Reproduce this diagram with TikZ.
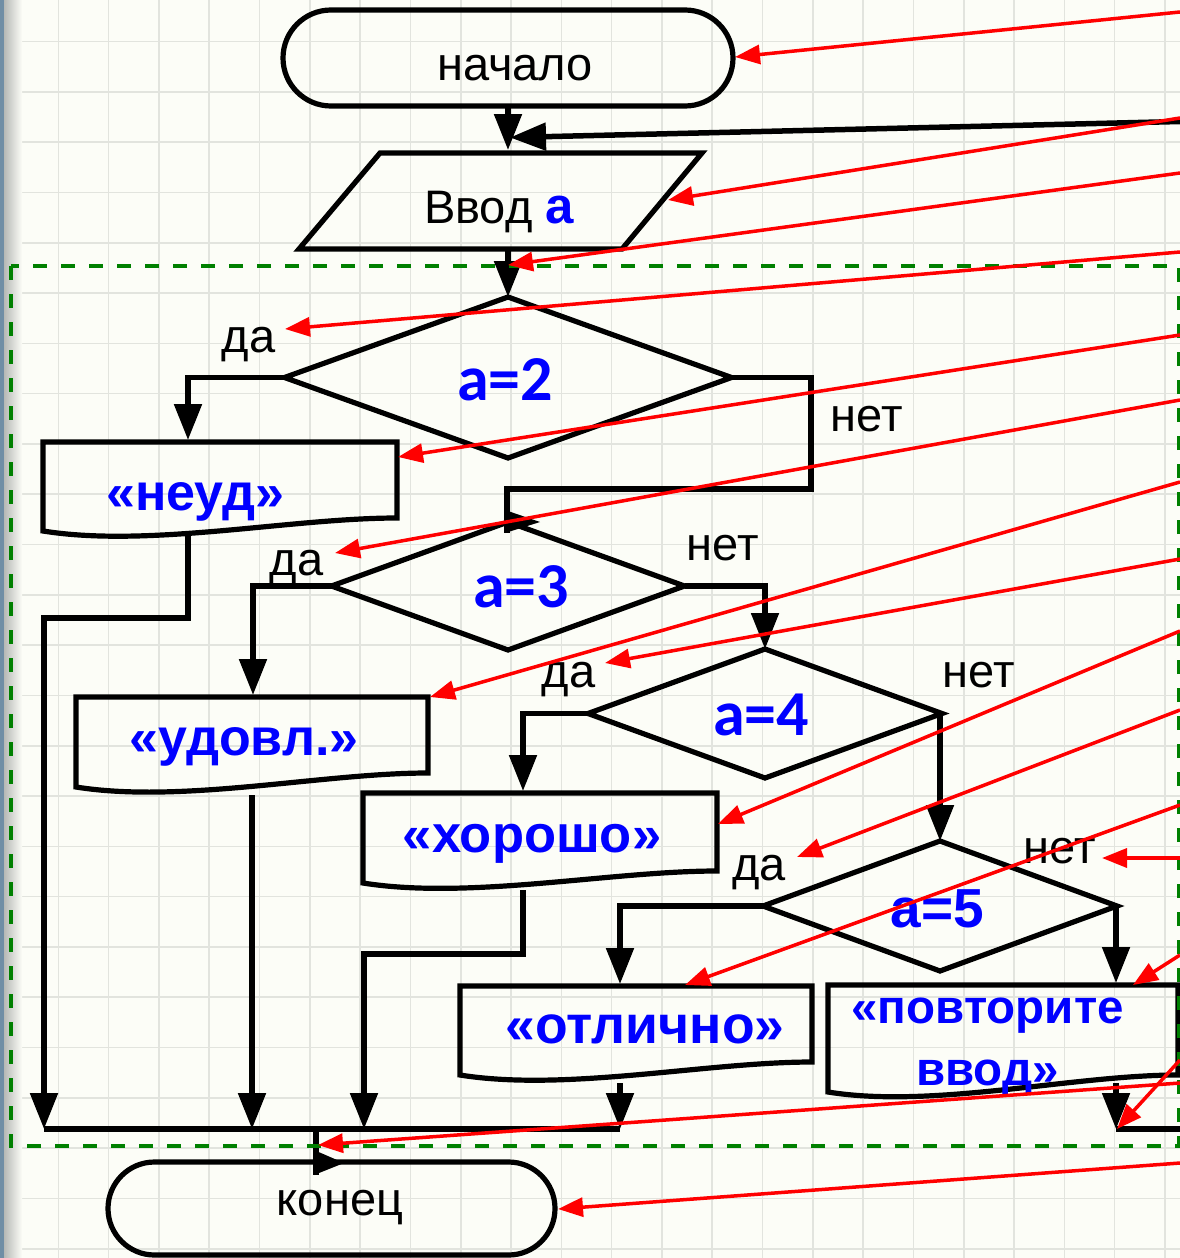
\documentclass[tikz,border=0pt]{standalone}
\usepackage{fontspec}
\setmainfont{Liberation Sans}
\newfontfamily\calibfont{Carlito}
\usetikzlibrary{arrows.meta,shapes.geometric,calc}

\definecolor{paper}{RGB}{252,253,247}
\definecolor{gridline}{RGB}{226,228,222}
\definecolor{textblue}{RGB}{0,0,255}
\definecolor{pointer}{RGB}{255,0,0}
\definecolor{frame}{RGB}{0,128,0}
\definecolor{edgeblue}{RGB}{112,142,165}
\definecolor{edgegray}{RGB}{178,181,178}

\tikzset{
  outline/.style={draw=black, line width=5.2pt},
  terminal/.style={outline, rectangle, rounded corners=#1, inner sep=0pt, outer sep=0pt},
  decision/.style={outline, diamond, inner sep=0pt, outer sep=0pt},
  flowline/.style={draw=black, line width=5.2pt},
  flow/.style={flowline, -{Triangle[length=36pt,width=27pt]}},
  pointer/.style={draw=pointer, line width=3.5pt, -{Triangle[length=25pt,width=19pt]}},
  plain/.style={inner sep=0pt, anchor=base, font=\fontsize{47}{52}\selectfont},
  answer/.style={inner sep=0pt, anchor=base, text=textblue, font=\fontsize{52}{58}\selectfont\bfseries},
  cond/.style={inner sep=0pt, anchor=base, text=textblue, font=\fontsize{64}{70}\selectfont\calibfont\bfseries},
}

% output block with a wavy lower edge: name, left, right, top, right bottom, left bottom
\newcommand\docbox[6]{%
  \node[inner sep=0pt, outer sep=0pt, minimum width={#3-#2}, minimum height={#5-#4},
        anchor=north west] (#1) at (#2,#4) {};
  \draw[outline] (#1.south east) -- (#1.north east) -- (#1.north west) -- (#2,#6)
    .. controls ({#2+0.3*(#3-#2)},{#6+17}) and ({#2+0.7*(#3-#2)},#5) .. (#1.south east) -- cycle;
}

\begin{document}
\begin{tikzpicture}[x=1pt, y=-1pt]
\useasboundingbox (0,0) rectangle (1180,1258);

% squared paper
\fill[paper] (0,0) rectangle (1180,1258);
\foreach \i in {0,...,23} \draw[gridline, line width=1.6pt] ({8+50.3*\i},0) -- ++(0,1258);
\foreach \j in {0,...,24} \draw[gridline, line width=1.6pt] (0,{41.5+50.3*\j}) -- ++(1180,0);
\shade[left color=edgegray, right color=paper] (3,0) rectangle (22,1258);
\fill[edgeblue] (0,0) rectangle (3.5,1258);

% terminals
\node[terminal=48pt, minimum width=450pt, minimum height=96pt] (start) at (508,58) {};
\node[plain] (start-t) at (515,80) {начало};
\node[terminal=46.5pt, minimum width=447pt, minimum height=93pt] (end) at (331.5,1208.5) {};
\node[plain] (end-t) at (340,1215) {конец};

% input
\coordinate (in-tl) at (380,153);
\coordinate (in-tr) at (702,153);
\coordinate (in-br) at (622,249);
\coordinate (in-bl) at (299,249);
\draw[outline] (in-tl) -- (in-tr) -- (in-br) -- (in-bl) -- cycle;
\node[plain] (in-t) at (499,223) {Ввод \textcolor{textblue}{\fontsize{51}{56}\selectfont\bfseries a}};

% decisions
\node[decision, minimum width=447pt, minimum height=161pt] (d2) at (508,377.5) {};
\node[decision, minimum width=353pt, minimum height=128pt] (d3) at (508,586) {};
\node[decision, minimum width=354pt, minimum height=129pt] (d4) at (765,713.5) {};
\node[decision, minimum width=354pt, minimum height=130pt] (d5) at (940,906) {};
\node[cond] (d2-t) at (505,400) {a=2};
\node[cond] (d3-t) at (521,607) {a=3};
\node[cond] (d4-t) at (761,735) {a=4};
\node[cond, font=\fontsize{55}{60}\selectfont\bfseries] (d5-t) at (937.5,927) {a=5};

% branch labels
\node[plain] (y2) at (248.5,352) {да};
\node[plain] (n2) at (867,431) {нет};
\node[plain] (y3) at (296.5,575) {да};
\node[plain] (n3) at (722.5,560) {нет};
\node[plain] (y4) at (568.5,687) {да};
\node[plain] (n4) at (978.5,687) {нет};
\node[plain] (y5) at (759,880) {да};
\node[plain] (n5) at (1060,863) {нет};

% outputs
\docbox{neud}{43}{397}{442}{518}{531}
\docbox{udovl}{76}{428}{697}{773}{787}
\docbox{horosho}{363}{717}{793}{871}{883}
\docbox{otl}{460}{812}{986}{1062}{1075}
\docbox{povt}{828}{1178}{985}{1075}{1092}
\node[answer] (neud-t) at (195.5,510) {«неуд»};
\node[answer] (udovl-t) at (244,755) {«удовл.»};
\node[answer, font=\fontsize{52.5}{58}\selectfont\bfseries] (horosho-t) at (532,852) {«хорошо»};
\node[answer, font=\fontsize{53.5}{58}\selectfont\bfseries] (otl-t) at (645,1043) {«отлично»};
\node[answer, font=\fontsize{47.5}{52}\selectfont\bfseries] (povt-t1) at (987.5,1023) {«повторите};
\node[answer, font=\fontsize{47.5}{52}\selectfont\bfseries] (povt-t2) at (987.5,1085) {ввод»};

% connection points
\coordinate (in-top) at (508,150);
\coordinate (in-bot) at (508,249);
\coordinate (loop-src) at (1180,121.5);
\coordinate (loop-in) at (510,137.5);
\coordinate (neud-in) at (188,440);
\coordinate (n2-turn) at (811,489);
\coordinate (d3-in) at (507,533);
\coordinate (udovl-in) at (253,695);
\coordinate (horosho-in) at (523,791);
\coordinate (otl-in) at (620,984);
\coordinate (povt-in) at (1116,983);
\coordinate (neud-out) at (188,536);
\coordinate (neud-turn) at (44,618);
\coordinate (udovl-out) at (252,795);
\coordinate (horosho-out) at (523,890);
\coordinate (horosho-turn) at (364,954);
\coordinate (otl-out) at (620,1083);
\coordinate (povt-out) at (1116,1083);
\coordinate (bus-a) at (44,1129);
\coordinate (bus-b) at (252,1129);
\coordinate (bus-c) at (364,1129);
\coordinate (bus-d) at (620,1129);
\coordinate (bus-e) at (1116,1129);
\coordinate (bus-f) at (1180,1129);
\coordinate (merge) at (316,1129);
\coordinate (end-in) at (316,1175);

% flow lines
\draw[flow] (start.south) -- (in-top);
\draw[flow, line width=5.5pt] (loop-src) -- (loop-in);
\draw[flow] (in-bot) -- (d2.north);
\draw[flow] (d2.west) -| (neud-in);
\draw[flowline] (d2.east) -| (n2-turn) -| (d3-in);
\fill ([shift={(-3,-12)}]d3.north) -- ([shift={(32,0)}]d3.north) -- ([shift={(-3,11)}]d3.north) -- cycle;
\draw[flow] (d3.west) -| (udovl-in);
\draw[flow] (d3.east) -| (d4.north);
\draw[flow] (d4.west) -| (horosho-in);
\draw[flow] (d4.east) -| (d5.north);
\draw[flow] (d5.west) -| (otl-in);
\draw[flow] (d5.east) -| (povt-in);
\draw[flow] (neud-out) |- (neud-turn) -- (bus-a);
\draw[flow] (udovl-out) -- (bus-b);
\draw[flow] (horosho-out) |- (horosho-turn) -- (bus-c);
\draw[flow] (otl-out) -- (bus-d);
\draw[flow] (povt-out) -- (bus-e);
\draw[flowline] (bus-a) -- (bus-d);
\draw[flowline] (bus-e) -- (bus-f);
\draw[flowline] (merge) -- (end-in);
\fill ([shift={(-2,-25)}]end-in) -- ([shift={(28,-12)}]end-in) -- ([shift={(-2,0)}]end-in) -- cycle;

% dashed frame
\draw[frame, line width=3.5pt, dash pattern=on 14pt off 14pt] (11,266) rectangle (1179,1146);

% red pointers
\foreach \sy/\tx/\ty [count=\k] in {
   12/735/57, 118/668/200, 173/508/265, 252/285/329, 335/398/457,
   400/335/553, 482/430/697, 559/605/663, 631/718/824, 710/797/857,
   805/685/985, 858/1102/858, 955/1133/985, 1060/1117/1129,
   1083/318/1145, 1163/558/1209} {
  \coordinate (ps\k) at (1180,\sy);
  \coordinate (pt\k) at (\tx,\ty);
  \draw[pointer] (ps\k) -- (pt\k);
}
\end{tikzpicture}
\end{document}
